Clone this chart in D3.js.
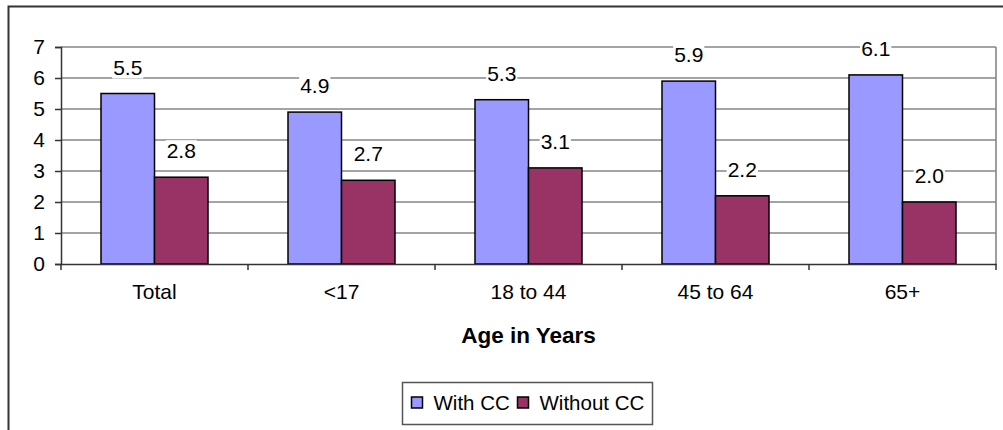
<!DOCTYPE html>
<html>
<head>
<meta charset="utf-8">
<script src="https://cdn.jsdelivr.net/npm/d3@7"></script>
<style>
  body { margin: 0; background: #fff; }
  text { font-family: "Liberation Sans", Arial, sans-serif; fill: #000; }
</style>
</head>
<body>
<div id="chart"></div>
<script>
var categories = ["Total", "<17", "18 to 44", "45 to 64", "65+"];
var seriesNames = ["With CC", "Without CC"];
var withCC = [5.5, 4.9, 5.3, 5.9, 6.1];
var withoutCC = [2.8, 2.7, 3.1, 2.2, 2.0];
var yTicks = [0, 1, 2, 3, 4, 5, 6, 7];
var colors = ["#9999FF", "#993366"];

var data = categories.map(function(c, i) {
  return { cat: c, values: [withCC[i], withoutCC[i]] };
});

var width = 1003, height = 430;
var margin = {top: 47, right: 7, bottom: 166, left: 61};

var svg = d3.select("#chart").append("svg")
    .attr("width", width)
    .attr("height", height);

// outer chart border
svg.append("rect")
    .attr("x", 8.5).attr("y", 6.5)
    .attr("width", 1100).attr("height", 600)
    .attr("fill", "none")
    .attr("stroke", "#333")
    .attr("stroke-width", 2);

var plotW = width - margin.left - margin.right,
    plotH = height - margin.top - margin.bottom;

var g = svg.append("g")
    .attr("transform", "translate(" + margin.left + "," + margin.top + ")");

var x0 = d3.scaleBand()
    .domain(categories)
    .range([0, plotW]);

var x1 = d3.scaleBand()
    .domain(seriesNames)
    .range([40, x0.bandwidth() - 40]);

var y = d3.scaleLinear()
    .domain([0, 7])
    .range([plotH, 0]);

// gridlines
g.append("g")
  .selectAll("line")
  .data(yTicks.slice(1))
  .enter().append("line")
    .attr("x1", 0).attr("x2", plotW)
    .attr("y1", function(d) { return y(d); })
    .attr("y2", function(d) { return y(d); })
    .attr("stroke", "#868686")
    .attr("stroke-width", 1.6);

// right border of plot area
g.append("line")
    .attr("x1", plotW).attr("x2", plotW)
    .attr("y1", 0).attr("y2", plotH)
    .attr("stroke", "#868686")
    .attr("stroke-width", 1.6);

// bars
var groups = g.selectAll(".grp")
  .data(data)
  .enter().append("g")
    .attr("class", "grp")
    .attr("transform", function(d) { return "translate(" + x0(d.cat) + ",0)"; });

groups.selectAll("rect")
  .data(function(d) { return d.values.map(function(v, i) { return {s: seriesNames[i], v: v, i: i}; }); })
  .enter().append("rect")
    .attr("x", function(d) { return x1(d.s); })
    .attr("y", function(d) { return y(d.v); })
    .attr("width", x1.bandwidth())
    .attr("height", function(d) { return plotH - y(d.v); })
    .attr("fill", function(d) { return colors[d.i]; })
    .attr("stroke", "#000")
    .attr("stroke-width", 1.5);

// data labels with white backing
var labels = groups.selectAll(".lbl")
  .data(function(d) { return d.values.map(function(v, i) { return {s: seriesNames[i], v: v}; }); })
  .enter().append("g")
    .attr("class", "lbl");

labels.append("text")
    .attr("x", function(d) { return x1(d.s) + x1.bandwidth() / 2; })
    .attr("y", function(d) { return y(d.v) - 19; })
    .attr("text-anchor", "middle")
    .style("font-size", "21px")
    .text(function(d) { return d.v.toFixed(1); });

labels.each(function() {
  var t = d3.select(this).select("text"),
      bb = t.node().getBBox();
  d3.select(this).insert("rect", "text")
      .attr("x", bb.x - 1).attr("y", bb.y + 1)
      .attr("width", bb.width + 2).attr("height", bb.height - 1)
      .attr("fill", "#fff");
});

// y axis
var yAxis = g.append("g")
    .call(d3.axisLeft(y).tickValues(yTicks).tickSize(6).tickPadding(10).tickFormat(d3.format("d")));
yAxis.selectAll("text").style("font-size", "21px");
yAxis.selectAll("line, path").attr("stroke", "#333").attr("stroke-width", 1.5);

// x axis
var xAxis = g.append("g")
    .attr("transform", "translate(0," + plotH + ")")
    .call(d3.axisBottom(x0).tickSize(0).tickPadding(20));
xAxis.selectAll("text").style("font-size", "21px");
xAxis.select("path").attr("stroke", "#333").attr("stroke-width", 1.5);

// category separator ticks
xAxis.selectAll(".sep")
  .data(categories.concat([null]))
  .enter().append("line")
    .attr("class", "sep")
    .attr("x1", function(d, i) { return i * x0.step(); })
    .attr("x2", function(d, i) { return i * x0.step(); })
    .attr("y1", 0).attr("y2", 6)
    .attr("stroke", "#333")
    .attr("stroke-width", 1.5);

// axis title
svg.append("text")
    .attr("x", margin.left + plotW / 2)
    .attr("y", 343)
    .attr("text-anchor", "middle")
    .style("font-size", "22.5px")
    .style("font-weight", "bold")
    .text("Age in Years");

// legend
var legend = svg.append("g").attr("transform", "translate(402.5,382.5)");
legend.append("rect")
    .attr("width", 250).attr("height", 42)
    .attr("fill", "#fff")
    .attr("stroke", "#555")
    .attr("stroke-width", 1.5);

var legendX = [9, 115];
var items = legend.selectAll(".item")
  .data(seriesNames)
  .enter().append("g")
    .attr("class", "item")
    .attr("transform", function(d, i) { return "translate(" + legendX[i] + ",0)"; });

items.append("rect")
    .attr("x", 0).attr("y", 14.5)
    .attr("width", 11).attr("height", 11)
    .attr("fill", function(d, i) { return colors[i]; })
    .attr("stroke", "#000")
    .attr("stroke-width", 1.5);

items.append("text")
    .attr("x", 22).attr("y", 27)
    .style("font-size", "20.5px")
    .text(function(d) { return d; });
</script>
</body>
</html>
